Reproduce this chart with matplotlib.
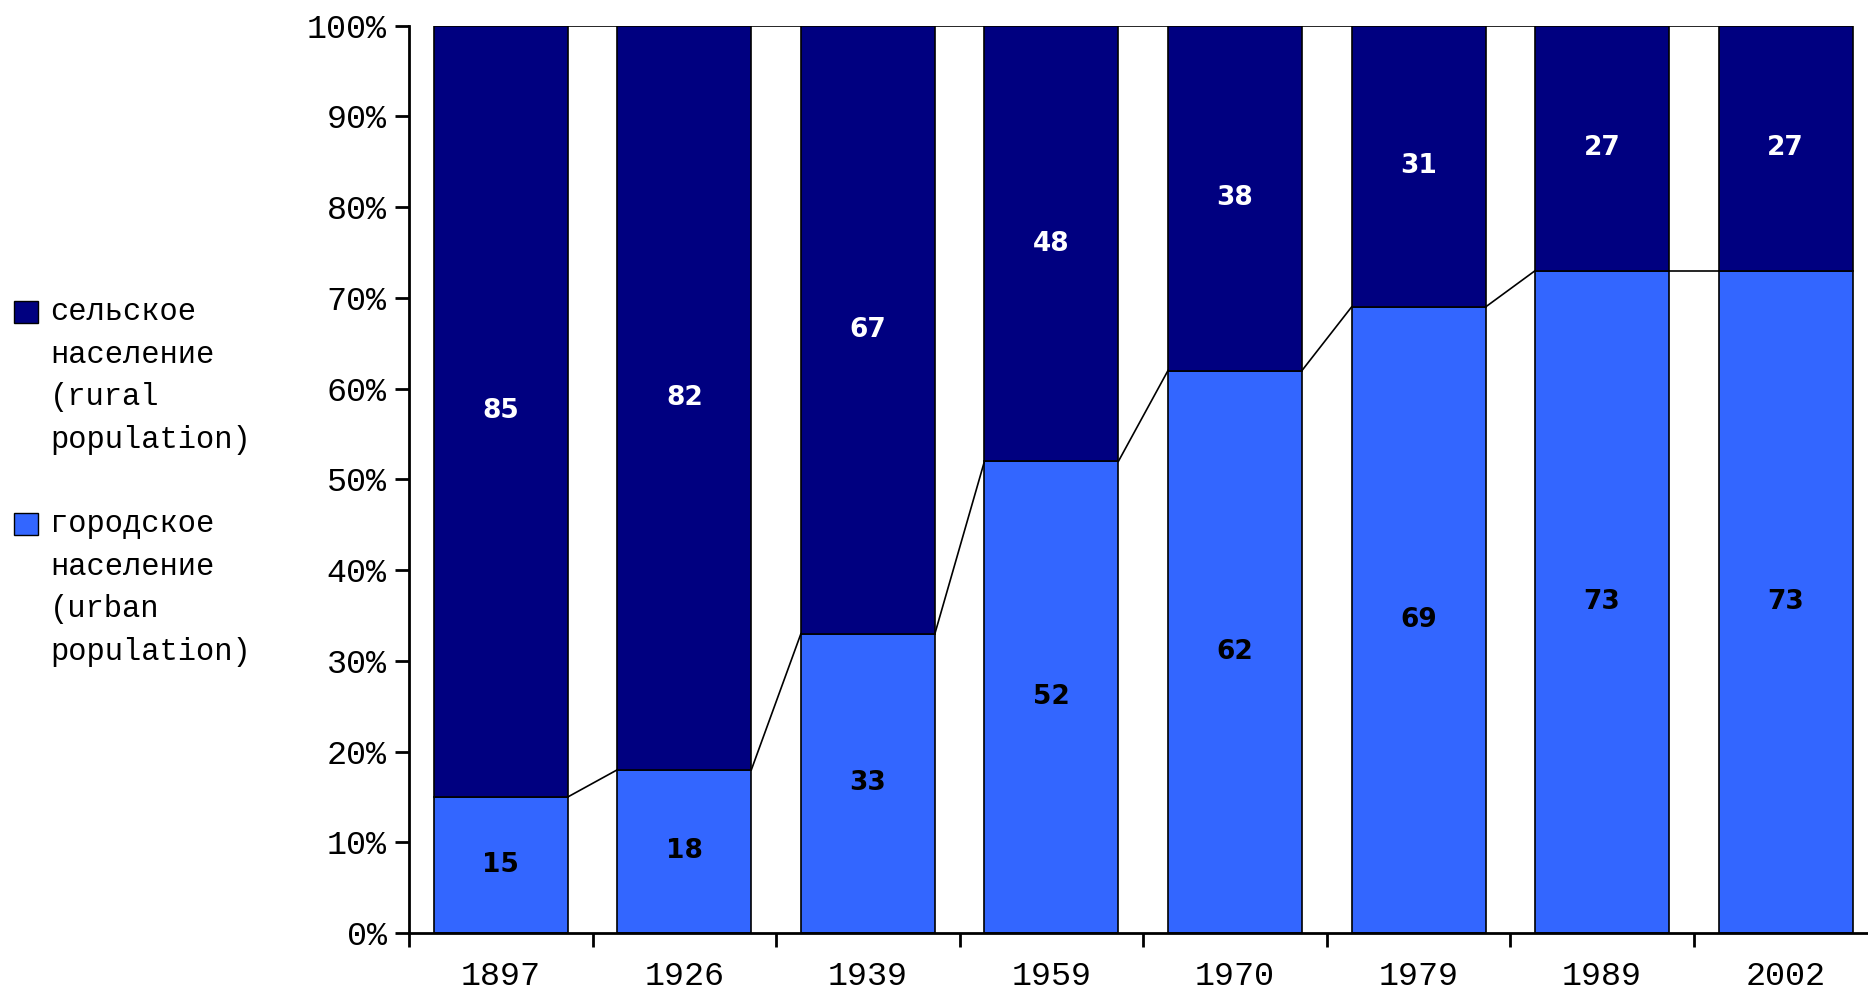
import numpy as np
import matplotlib.pyplot as plt
from matplotlib.patches import Rectangle

years = ['1897', '1926', '1939', '1959', '1970', '1979', '1989', '2002']
urban = [15, 18, 33, 52, 62, 69, 73, 73]
rural = [85, 82, 67, 48, 38, 31, 27, 27]
labels = ['сельское\nнаселение\n(rural\npopulation)',
          'городское\nнаселение\n(urban\npopulation)']

c_rural = '#000080'
c_urban = '#3366FF'
mono = ['Liberation Mono', 'DejaVu Sans Mono']

fig = plt.figure(figsize=(18.68, 9.91), dpi=100)
ax = fig.add_axes([0.219, 0.0585, 0.786, 0.9155])

x = np.arange(len(years))
w = 0.73
u = np.array(urban)
r = np.array(rural)
ax.bar(x, u, w, color=c_urban, edgecolor='black', linewidth=1.2)
ax.bar(x, r, w, bottom=u, color=c_rural, edgecolor='black', linewidth=1.2)

# series lines between bars
for i in range(len(x) - 1):
    ax.plot([x[i] + w / 2, x[i + 1] - w / 2], [u[i], u[i + 1]], color='black', lw=1.2)
    ax.plot([x[i] + w / 2, x[i + 1] - w / 2], [u[i] + r[i], u[i + 1] + r[i + 1]],
            color='black', lw=1.2)

for i in x:
    ax.text(i, u[i] / 2, str(u[i]), ha='center', va='center', color='black',
            fontsize=19, fontweight='bold', family='DejaVu Sans')
    ax.text(i, u[i] + r[i] / 2, str(r[i]), ha='center', va='center', color='white',
            fontsize=19, fontweight='bold', family='DejaVu Sans')

ax.set_xlim(-0.5, len(years) - 0.5)
ax.set_ylim(0, 100)
ax.set_yticks(np.arange(0, 101, 10))
ax.set_yticklabels([f'{v}%' for v in range(0, 101, 10)], family=mono, fontsize=24)
ax.set_xticks(x)
ax.set_xticklabels(years, family=mono, fontsize=24)
ax.set_xticks(np.arange(-0.5, len(years), 1), minor=True)
ax.tick_params(axis='x', which='major', length=0, pad=20)
ax.tick_params(axis='x', which='minor', length=10, width=2)
ax.tick_params(axis='y', length=10, width=2, pad=6)
for s in ['top', 'right']:
    ax.spines[s].set_visible(False)
for s in ['left', 'bottom']:
    ax.spines[s].set_linewidth(2)

# legend: square at first line, text to the right
W, H = 1868, 991
for lab, col, ytop in zip(labels, [c_rural, c_urban], [301, 513]):
    fig.add_artist(Rectangle((14 / W, 1 - (ytop + 22) / H), 24 / W, 22 / H,
                             transform=fig.transFigure, facecolor=col,
                             edgecolor='black', lw=1))
    fig.text(50 / W, 1 - (ytop - 4) / H, lab, ha='left', va='top',
             family=mono, fontsize=22, linespacing=1.55)

plt.savefig('out.png', dpi=100)
